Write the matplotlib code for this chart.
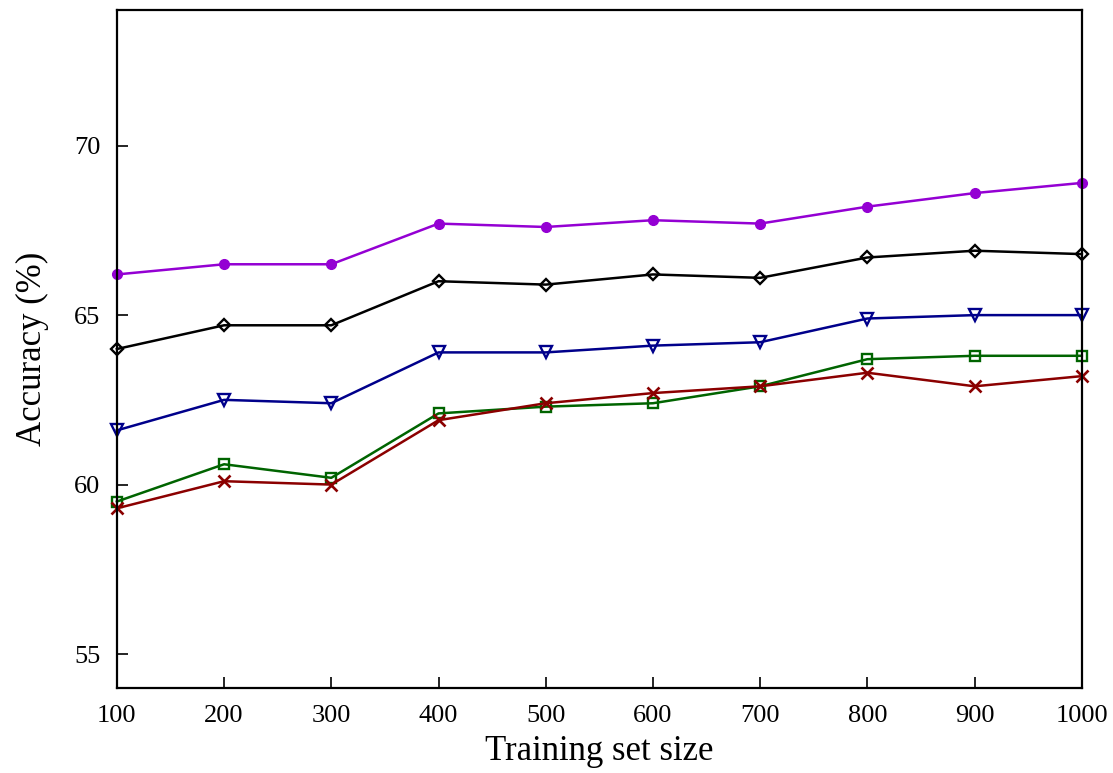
import numpy as np
import matplotlib.pyplot as plt

plt.rcParams['font.family'] = ['Liberation Serif', 'DejaVu Serif']

# Data
sizes = [100, 200, 300, 400, 500, 600, 700, 800, 900, 1000]
purple = [66.2, 66.5, 66.5, 67.7, 67.6, 67.8, 67.7, 68.2, 68.6, 68.9]
black = [64.0, 64.7, 64.7, 66.0, 65.9, 66.2, 66.1, 66.7, 66.9, 66.8]
blue = [61.6, 62.5, 62.4, 63.9, 63.9, 64.1, 64.2, 64.9, 65.0, 65.0]
green = [59.5, 60.6, 60.2, 62.1, 62.3, 62.4, 62.9, 63.7, 63.8, 63.8]
red = [59.3, 60.1, 60.0, 61.9, 62.4, 62.7, 62.9, 63.3, 62.9, 63.2]

fig = plt.figure(figsize=(11.13, 7.73), dpi=100)
ax = fig.add_axes([0.105, 0.110, 0.867, 0.877])

ax.plot(sizes, purple, color='#9400d3', marker='o', ms=7, lw=1.8, clip_on=False)
ax.plot(sizes, black, color='black', marker='D', ms=6, mfc='none', mew=1.7, lw=1.8, clip_on=False)
ax.plot(sizes, blue, color='#00008b', marker='v', ms=8, mfc='none', mew=1.7, lw=1.8, clip_on=False)
ax.plot(sizes, green, color='#006400', marker='s', ms=7, mfc='none', mew=1.7, lw=1.8, clip_on=False)
ax.plot(sizes, red, color='#8b0000', marker='x', ms=8, mew=1.9, lw=1.8, clip_on=False)

ax.set_xlim(100, 1000)
ax.set_ylim(54, 74)
ax.set_xticks(sizes)
ax.set_yticks([55, 60, 65, 70])
ax.tick_params(direction='in', length=8, width=1.2, labelsize=19, pad=12)
for s in ax.spines.values():
    s.set_linewidth(1.6)

ax.set_xlabel('Training set size', fontsize=25, labelpad=6)
ax.set_ylabel('Accuracy (%)', fontsize=25, labelpad=18)

fig.savefig('out.png', dpi=100)
